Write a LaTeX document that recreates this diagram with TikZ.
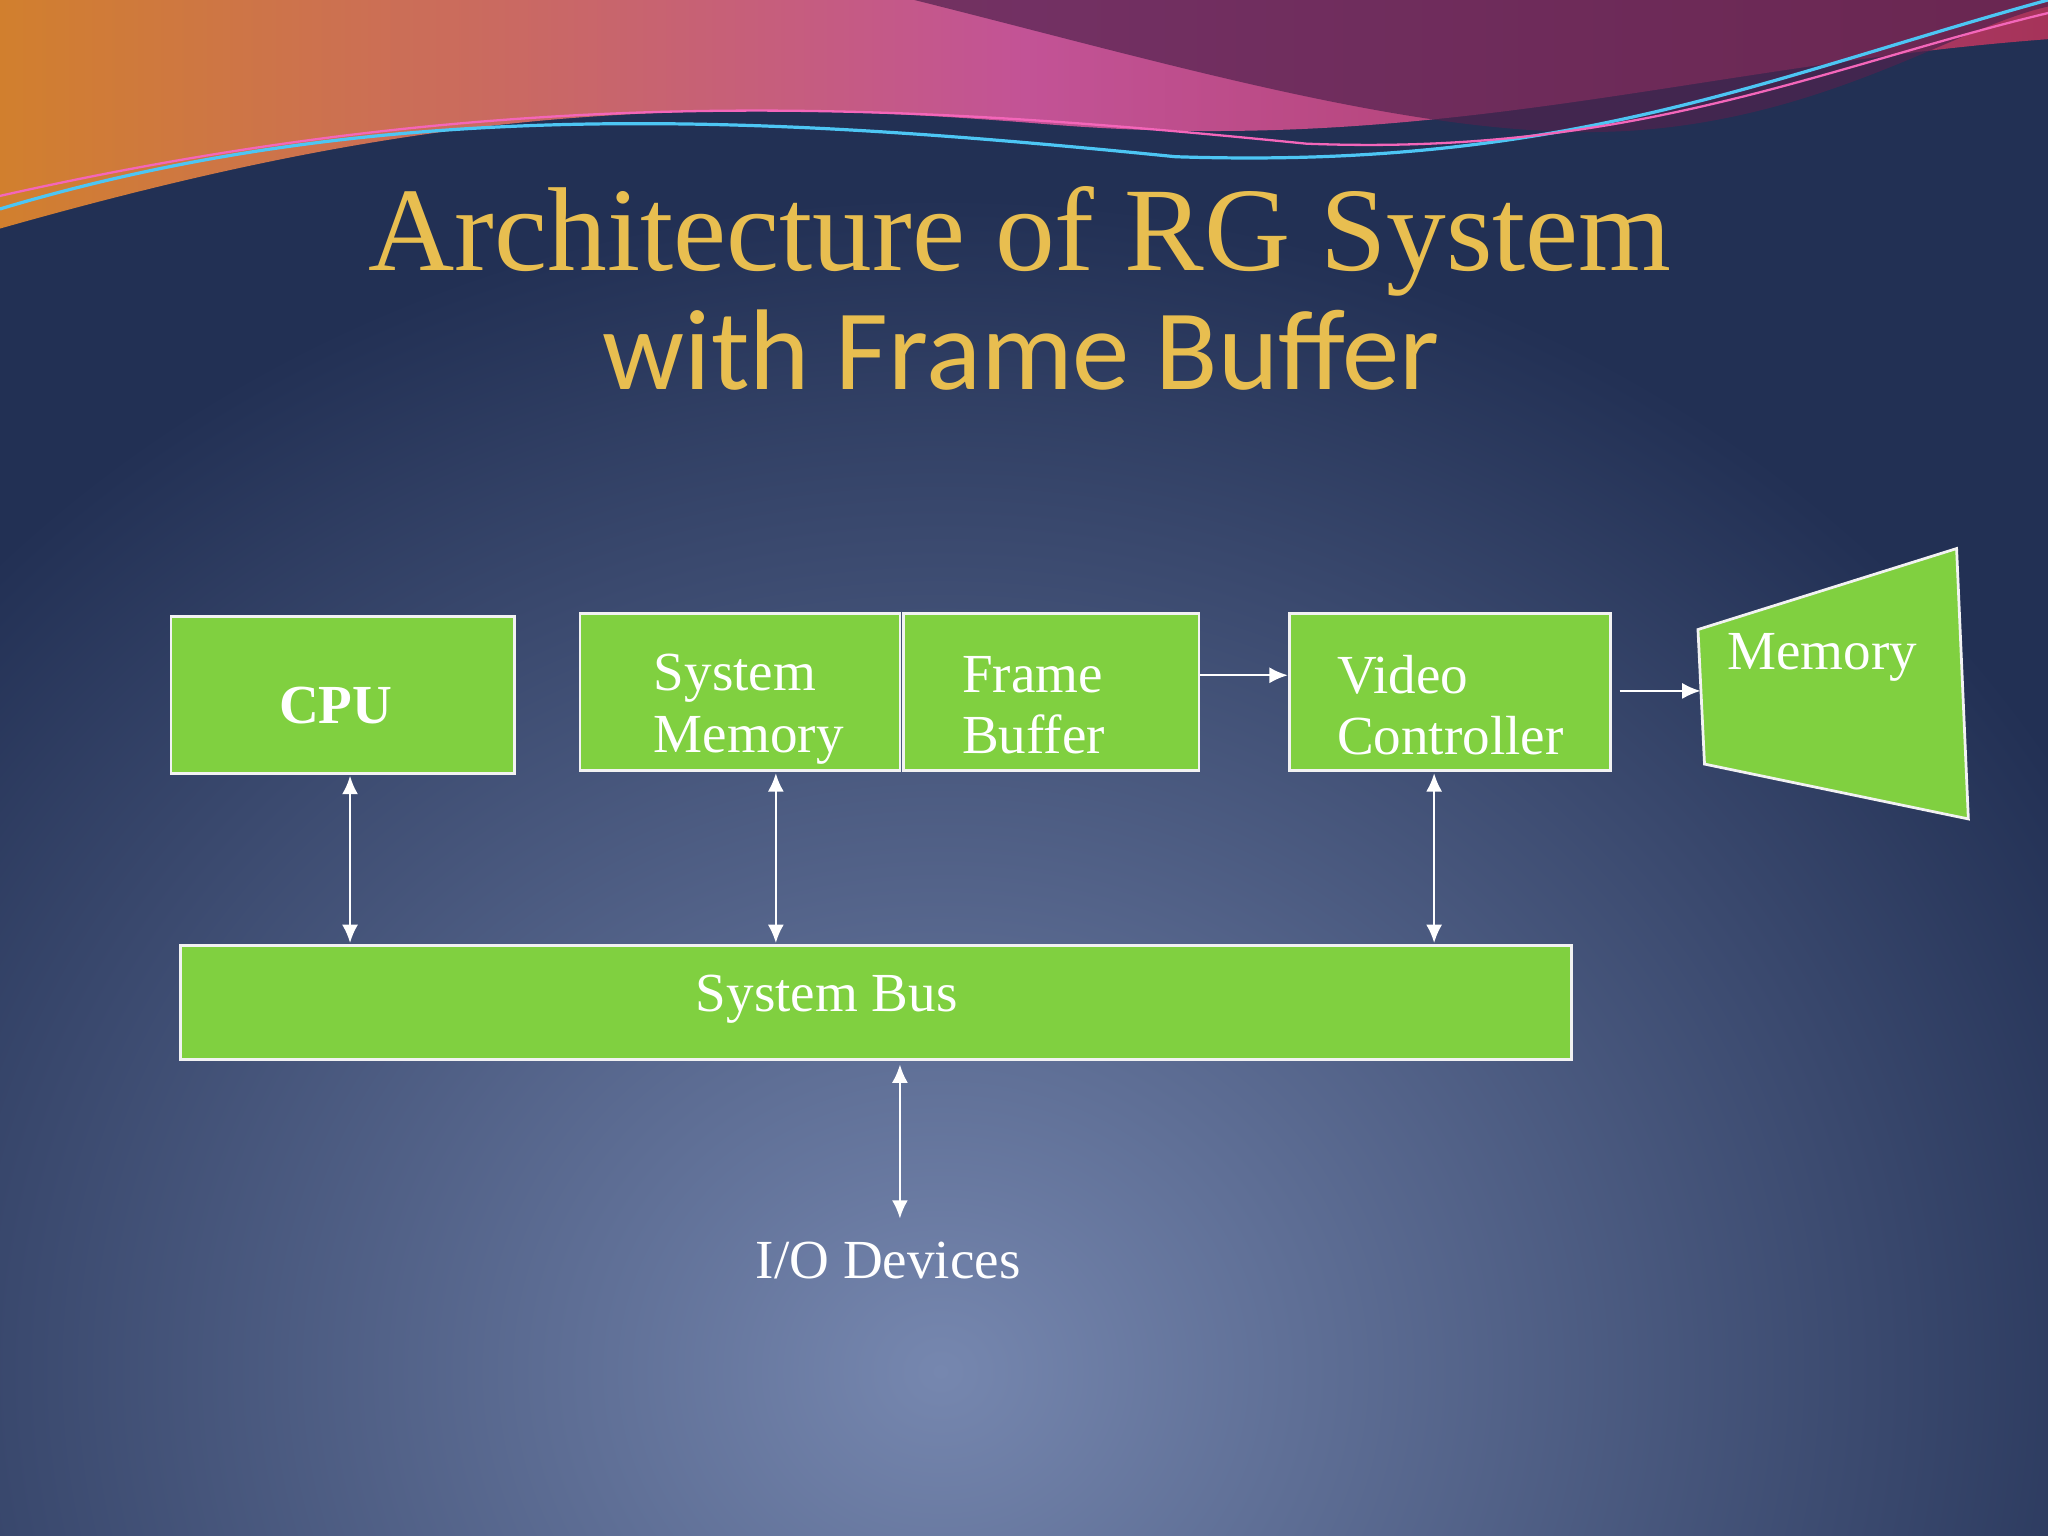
\documentclass[tikz,border=0pt]{standalone}
\usepackage{fontspec}
\setmainfont{Liberation Serif}
\newfontfamily\titlesans{Carlito}
\usetikzlibrary{arrows.meta}
\definecolor{bgdark}{RGB}{34,48,84}
\definecolor{bglight}{RGB}{118,135,175}
\definecolor{boxgreen}{RGB}{128,208,64}
\definecolor{gold}{RGB}{232,190,80}
\tikzset{
 box/.style={draw=white!90!gray, line width=0.6pt, fill=boxgreen, inner sep=0pt},
 lbl/.style={text=white, font=\fontsize{12}{13.4}\selectfont, align=left, anchor=west, inner sep=0pt},
 dbl/.style={white, line width=0.5pt, {Latex[length=4pt,width=3.5pt]}-{Latex[length=4pt,width=3.5pt]}},
 sgl/.style={white, line width=0.5pt, -{Latex[length=4pt,width=3.5pt]}},
}
\begin{document}
\begin{tikzpicture}
\useasboundingbox (0,0) rectangle (15.68,-11.76);
\begin{scope}
\clip (0,0) rectangle (15.68,-11.76);
\fill[bgdark] (0,0) rectangle (15.68,-11.76);
\shade[inner color=bglight, outer color=bgdark] (7.2,-10.5) ellipse (10 and 9);
\shade[left color=orange!60!brown!80!gray, right color=purple!60!gray, middle color=magenta!50!brown!70!gray]
 (0,0) -- (0,-1.75) .. controls (3,-0.9) and (5,-0.7) .. (8,-0.95) .. controls (11,-1.2) and (13,-0.5) .. (15.68,-0.3) -- (15.68,0) -- cycle;
\fill[bgdark!70!purple, opacity=0.7] (7,0) .. controls (9,-0.5) and (11,-1.1) .. (12.5,-1.0) .. controls (14,-0.9) and (15,-0.2) .. (15.68,-0.05) -- (15.68,0) -- cycle;
\draw[cyan!70, line width=0.7pt] (0,-1.6) .. controls (3,-0.7) and (6,-0.9) .. (9,-1.2) .. controls (12,-1.3) and (13.5,-0.6) .. (15.68,0);
\draw[magenta!60, line width=0.5pt] (0,-1.5) .. controls (4,-0.6) and (7,-0.8) .. (10,-1.1) .. controls (12.5,-1.2) and (14,-0.5) .. (15.68,-0.1);
\end{scope}
\node[text=gold, font=\fontsize{26}{30}\selectfont] (t1) at (7.81,-1.85) {Architecture of RG System};
\node[text=gold, font=\titlesans\fontsize{25}{28}\selectfont] (t2) at (7.82,-2.68) {with Frame Buffer};
\node[box, minimum width=2.63cm, minimum height=1.2cm] (cpu) at (2.625,-5.32) {};
\node[text=white, font=\bfseries\fontsize{12}{13}\selectfont] (cpul) at (2.57,-5.40) {CPU};
\node[box, minimum width=2.45cm, minimum height=1.2cm] (sm) at (5.665,-5.30) {};
\node[lbl] (sml) at (5.00,-5.43) {System\\Memory};
\node[box, minimum width=2.26cm, minimum height=1.2cm] (fb) at (8.05,-5.30) {};
\node[lbl] (fbl) at (7.36,-5.40) {Frame\\Buffer};
\node[box, minimum width=2.46cm, minimum height=1.2cm] (vc) at (11.10,-5.30) {};
\node[lbl] (vcl) at (10.23,-5.40) {Video\\Controller};
\node[box, minimum width=10.65cm, minimum height=0.87cm] (bus) at (6.705,-7.675) {};
\node[text=white, font=\fontsize{12}{13}\selectfont] (busl) at (6.33,-7.65) {System Bus};
\draw[white!90!gray, line width=0.6pt, fill=boxgreen] (13.00,-4.82) coordinate (m1) -- (14.98,-4.20) -- (15.07,-6.27) -- (13.05,-5.85) -- cycle;
\node[text=white, font=\fontsize{12}{13}\selectfont] (mem) at (13.95,-5.03) {Memory};
\node[text=white, font=\fontsize{12}{13}\selectfont] (io) at (6.80,-9.65) {I/O Devices};
\coordinate (memin) at (13.02,-5.29);
\draw[dbl] (2.68,-5.94) -- (2.68,-7.22);
\draw[dbl] (5.94,-5.92) -- (5.94,-7.22);
\draw[dbl] (10.98,-5.92) -- (10.98,-7.22);
\draw[dbl] (6.89,-8.15) -- (6.89,-9.33);
\draw[sgl] (fb.east |- 0,-5.17) -- (vc.west |- 0,-5.17);
\draw[sgl] (12.40,-5.29) -- (memin);
\end{tikzpicture}
\end{document}
